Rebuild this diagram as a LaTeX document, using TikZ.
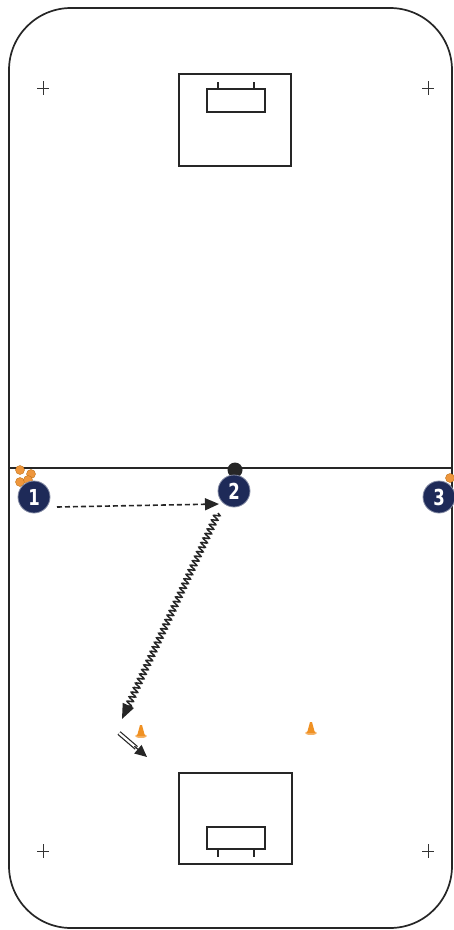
\documentclass[tikz,border=0pt]{standalone}
\usepackage{fontspec}
\setmainfont{DejaVu Sans}
\newfontfamily\numfont[FakeStretch=0.75]{DejaVu Sans}
\usetikzlibrary{arrows.meta,decorations.pathmorphing,calc}
\definecolor{navy}{RGB}{30,42,88}
\definecolor{coneorange}{RGB}{240,145,35}
\definecolor{discorange}{RGB}{238,150,60}
\tikzset{
  player/.style={circle, fill=navy, draw=navy!55, line width=0.8pt, minimum size=32pt, inner sep=0pt,
    text=white, font=\numfont\fontsize{22}{22}\selectfont\bfseries},
  crossmark/.style={line width=1pt, black!80},
  boxline/.style={line width=1.4pt, black!85},
  passarrow/.style={dashed, dash pattern=on 5pt off 3pt, line width=1.6pt, black!85, -{Triangle[length=14pt,width=12pt]}},
  dribble/.style={line width=1.5pt, black!85, -{Triangle[length=15pt,width=12pt]},
    decorate, decoration={snake, segment length=5pt, amplitude=3pt, post length=14pt}},
  runline/.style={double, double distance=2.2pt, line width=1.2pt, black!85},
  runhead/.style={line width=1.2pt, black!85, -{Triangle[length=12pt,width=11pt]}},
  disc/.style={circle, fill=discorange, draw=coneorange!80!black, line width=0.4pt, minimum size=9pt, inner sep=0pt},
}
\begin{document}
\begin{tikzpicture}[x=1pt,y=-1pt]
\useasboundingbox (0,0) rectangle (454,930);
% rink
\draw[line width=1.7pt, black!85, rounded corners=62pt] (9,8) rectangle (452,928);
% halfway line
\draw[line width=1.4pt, black!85] (9,468) -- (452,468);
% crosses
\foreach \cx/\cy in {43/88, 428/88, 43/851, 428/851}{
  \draw[crossmark] (\cx-6,\cy) -- (\cx+6,\cy) (\cx,\cy-7) -- (\cx,\cy+7);
}
% top goal area
\draw[boxline] (179,74) rectangle (291,166);
\draw[boxline] (207,89) rectangle (265,112);
\draw[boxline] (218,82) -- (218,89) (254,82) -- (254,89);
% bottom goal area
\draw[boxline] (179,773) rectangle (292,864);
\draw[boxline] (207,827) rectangle (265,849);
\draw[boxline] (218,849) -- (218,857) (254,849) -- (254,857);
% disc cones
\node[disc] (d1) at (20,470) {};
\node[disc] (d2) at (31,474) {};
\node[disc] (d3) at (20,482) {};
\node[disc] (d4) at (28,480) {};
\node[disc] (d5) at (450,478) {};
% ball
\node[circle, fill=black!85, minimum size=15pt, inner sep=0pt] (ball) at (235,470) {};
% players
\node[player] (p1) at (34,497) {1};
\node[player] (p2) at (234,491) {2};
\node[player] (p3) at (439,497) {3};
% cones
\foreach \n/\cx/\cy in {c1/141/731, c2/311/728}{
  \fill[coneorange!70] (\cx,\cy+5) ellipse (6pt and 2pt);
  \fill[coneorange] (\cx-4,\cy+5) -- (\cx-1,\cy-6) -- (\cx+1,\cy-6) -- (\cx+4,\cy+5) -- cycle;
  \coordinate (\n) at (\cx,\cy);
}
% arrows
\coordinate (a1s) at (57,507);
\coordinate (a1e) at (219,504);
\draw[passarrow] (a1s) -- (a1e);
\coordinate (a2s) at (218,513);
\coordinate (a2e) at (122,719);
\draw[dribble] (a2s) -- (a2e);
\coordinate (a3s) at (119,733);
\coordinate (a3e) at (147,757);
\coordinate (a3m) at ($(a3s)!0.62!(a3e)$);
\draw[runline] (a3s) -- (a3m);
\draw[runhead] ($(a3s)!0.55!(a3e)$) -- (a3e);
\end{tikzpicture}
\end{document}
